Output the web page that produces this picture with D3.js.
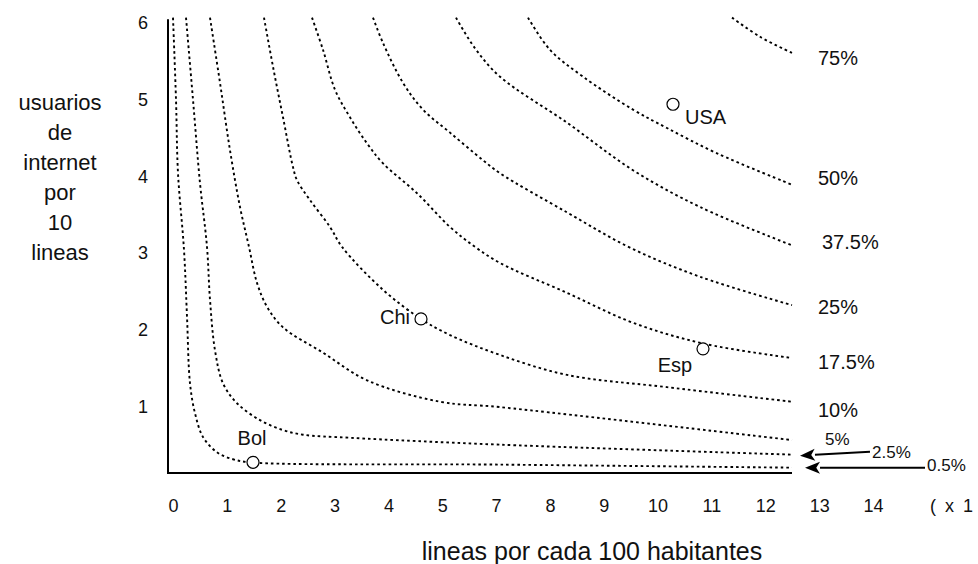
<!DOCTYPE html>
<html>
<head>
<meta charset="utf-8">
<script src="https://cdn.jsdelivr.net/npm/d3@7"></script>
<style>
  html, body { margin: 0; padding: 0; background: #fff; }
  svg { display: block; font-family: "Liberation Sans", Arial, sans-serif; }
</style>
</head>
<body>
<svg id="chart" width="978" height="564"></svg>
<script>
// ---------- DATA ----------
const xTickLabels = ["0","1","2","3","4","5","7","8","9","10","11","12","13","14"];
const xUnitNote = "( x 1";
const yTickValues = [1, 2, 3, 4, 5, 6];
const xTitle = "lineas por cada 100 habitantes";
const yTitleLines = ["usuarios", "de", "internet", "por", "10", "lineas"];

const contourNames = ["75%", "50%", "37.5%", "25%", "17.5%", "10%", "5%", "2.5%", "0.5%"];
const contour75  = [[11.18,6.07],[11.74,5.82],[12.38,5.61]];
const contour50  = [[7.1,6.07],[7.54,5.65],[8.2,5.30],[9.2,4.87],[9.88,4.63],[10.88,4.30],[12.38,3.89]];
const contour375 = [[5.66,6.07],[6.04,5.67],[6.54,5.30],[7.88,4.70],[9.2,4.08],[10.54,3.60],[12.38,3.10]];
const contour25  = [[4.0,6.07],[4.2,5.74],[4.6,5.22],[5.0,4.87],[5.54,4.57],[6.2,4.21],[6.54,4.04],[7.88,3.53],[9.14,3.07],[10.54,2.69],[12.38,2.32]];
const contour175 = [[2.78,6.07],[3.0,5.65],[3.24,5.13],[3.54,4.77],[3.88,4.43],[4.2,4.17],[4.88,3.78],[5.54,3.34],[6.04,3.08],[6.54,2.87],[7.88,2.48],[9.2,2.09],[10.6,1.82],[12.38,1.63]];
const contour10  = [[1.82,6.07],[2.0,5.43],[2.2,4.77],[2.4,4.12],[2.48,3.95],[2.74,3.69],[3.14,3.34],[3.38,3.08],[4.2,2.52],[4.96,2.14],[5.54,1.93],[6.54,1.67],[7.88,1.41],[9.88,1.25],[12.38,1.06]];
const contour5   = [[0.74,6.07],[0.94,5.22],[1.14,4.34],[1.34,3.60],[1.52,3.08],[1.68,2.61],[1.88,2.30],[2.2,2.03],[3.0,1.70],[3.88,1.34],[5.34,1.06],[6.54,0.99],[12.38,0.56]];
const contour25b = [[0.26,6.07],[0.4,5.0],[0.54,3.91],[0.68,3.08],[0.74,2.39],[0.84,1.73],[1.0,1.30],[1.28,1.04],[1.74,0.82],[2.2,0.69],[2.6,0.63],[3.54,0.59],[6.54,0.50],[12.38,0.37]];
const contour05  = [[0.0,6.07],[0.06,5.0],[0.1,4.04],[0.22,3.04],[0.28,2.17],[0.34,1.30],[0.44,0.91],[0.6,0.60],[0.88,0.40],[1.2,0.31],[1.54,0.27],[6.54,0.24],[12.38,0.20]];
const contours = [contour75, contour50, contour375, contour25, contour175, contour10, contour5, contour25b, contour05];

const countries = ["Bol", "Chi", "Esp", "USA"];
const countryX  = [1.6, 4.96, 10.6, 10.0];
const countryY  = [0.27, 2.14, 1.75, 4.94];

// ---------- LAYOUT / STYLE ----------
const W = 978, H = 564;
const frame = { x0: -0.1, x1: 12.38, y0: 0.13, y1: 6.05 };
const x = d3.scaleLinear().domain([0, 14]).range([173, 873]);
const y = d3.scaleLinear().domain([0, 6]).range([483, 23]);
const xLabelScale = d3.scalePoint().domain(xTickLabels).range([173, 873]);

// label placement relative to curve end: [dx, dy, fontSize, arrow]
const contourLabelLayout = [
  [26, 5, 20, false], [26, -7, 20, false], [30, -3, 20, false], [26, 2, 20, false],
  [26, 4, 20, false], [26, 8, 20, false], [33, -1, 17, false], [80, -3, 17, true], [135, -3, 17, true]
];
const countryLabelLayout = [
  [-1, -24, "middle"], [-11, -2, "end"], [-28, 16, "middle"], [12, 13, "start"]
];

const svg = d3.select("#chart");
svg.append("rect").attr("width", W).attr("height", H).attr("fill", "#fff");

// contours
const line = d3.line().x(d => x(d[0])).y(d => y(d[1])).curve(d3.curveCatmullRom.alpha(0.5));
svg.append("g").selectAll("path").data(contours).join("path")
  .attr("d", line)
  .attr("fill", "none")
  .attr("stroke", "#000")
  .attr("stroke-width", 1.9)
  .attr("stroke-dasharray", "2.6,3");

// frame (axes lines)
svg.append("path")
  .attr("d", `M${x(frame.x0)},${y(frame.y1)}V${y(frame.y0)}H${x(frame.x1)}`)
  .attr("fill", "none").attr("stroke", "#000").attr("stroke-width", 2);

// contour labels & arrows
const labG = svg.append("g").attr("fill", "#111");
contours.forEach((c, i) => {
  const end = c[c.length - 1];
  const ex = x(end[0]), ey = y(end[1]);
  const [dx, dy, fs, arrow] = contourLabelLayout[i];
  labG.append("text")
    .attr("x", ex + dx).attr("y", ey + dy).attr("dy", "0.35em")
    .attr("font-size", fs).text(contourNames[i]);
  if (arrow) {
    const sx = ex + dx - 2, sy = ey + dy + (i === 7 ? 0 : 3);
    const tx = ex + (i === 7 ? 8 : 13), ty = ey + (i === 7 ? 1 : 0);
    const ang = Math.atan2(ty - sy, tx - sx);
    const L = 15, Wd = 6;
    const bx = tx - L * Math.cos(ang), by = ty - L * Math.sin(ang);
    labG.append("line").attr("x1", sx).attr("y1", sy).attr("x2", bx).attr("y2", by)
      .attr("stroke", "#000").attr("stroke-width", 2);
    const px = -Math.sin(ang) * Wd, py = Math.cos(ang) * Wd;
    labG.append("path")
      .attr("d", `M${tx},${ty}L${bx + px},${by + py}L${bx + L*0.25*Math.cos(ang)},${by + L*0.25*Math.sin(ang)}L${bx - px},${by - py}Z`)
      .attr("fill", "#000");
  }
});

// country points
countries.forEach((name, i) => {
  const cx = x(countryX[i]), cy = y(countryY[i]);
  svg.append("circle").attr("cx", cx).attr("cy", cy).attr("r", 6)
    .attr("fill", "#fff").attr("stroke", "#000").attr("stroke-width", 1.2);
  const [dx, dy, anchor] = countryLabelLayout[i];
  svg.append("text").attr("x", cx + dx).attr("y", cy + dy).attr("dy", "0.35em")
    .attr("text-anchor", anchor).attr("font-size", 20).attr("fill", "#111").text(name);
});

// x tick labels
const xAxis = svg.append("g").attr("transform", "translate(0,499)")
  .call(d3.axisBottom(xLabelScale).tickSize(0).tickPadding(0));
xAxis.select(".domain").remove();
xAxis.selectAll("text").attr("font-size", 18).attr("fill", "#111")
  .attr("font-family", "Liberation Sans, Arial, sans-serif");
svg.append("text").attr("x", 930).attr("y", 499).attr("dy", "0.71em")
  .attr("font-size", 18).attr("word-spacing", 4).attr("fill", "#111").text(xUnitNote);

// y tick labels
const yAxis = svg.append("g").attr("transform", `translate(${x(frame.x0)},0)`)
  .call(d3.axisLeft(y).tickValues(yTickValues).tickSize(0).tickPadding(20).tickFormat(d3.format("d")));
yAxis.select(".domain").remove();
yAxis.selectAll("text").attr("font-size", 18).attr("fill", "#111")
  .attr("font-family", "Liberation Sans, Arial, sans-serif");

// titles
svg.append("text").attr("x", 592).attr("y", 560).attr("text-anchor", "middle")
  .attr("font-size", 25).attr("fill", "#111").text(xTitle);
const yt = svg.append("text").attr("text-anchor", "middle").attr("font-size", 22).attr("fill", "#111");
yTitleLines.forEach((t, i) => {
  yt.append("tspan").attr("x", 60).attr("y", 102 + i * 30).attr("dy", "0.35em").text(t);
});
</script>
</body>
</html>
